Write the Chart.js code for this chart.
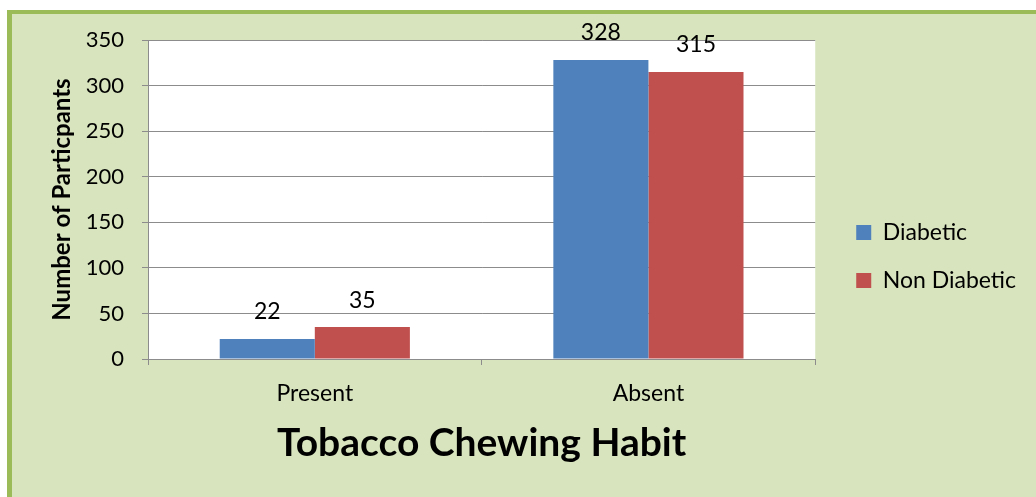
<!DOCTYPE html>
<html>
<head>
<meta charset="utf-8">
<script src="https://cdn.jsdelivr.net/npm/chart.js@4.4.0/dist/chart.umd.min.js"></script>
<style>
  html, body { margin: 0; padding: 0; background: #ffffff; overflow: hidden; }
  #frame {
    position: absolute; left: 7px; top: 10px; width: 1040px; height: 500px;
    background: #D7E4BD; border-left: 5px solid #9BBB59; border-top: 4px solid #9BBB59;
  }
  #statsChart { position: absolute; left: 0; top: 0; }
</style>
</head>
<body>
<div id="frame"></div>
<canvas id="statsChart" width="1036" height="497"></canvas>
<script>
// categories and the two series
const categories = ['Present', 'Absent'];
const diabetic = [22, 328];
const nonDiabetic = [35, 315];
const yTicks = [0, 50, 100, 150, 200, 250, 300, 350];

const gridGray = '#8C8C8C';
const fontFamily = 'Lato, "Open Sans", sans-serif';

// white plot background
const plotBg = {
    id: 'plotBg',
    beforeDraw(chart) {
        const { ctx, chartArea: a } = chart;
        ctx.save();
        ctx.fillStyle = '#ffffff';
        ctx.fillRect(a.left, a.top, a.right - a.left, a.bottom - a.top);
        ctx.restore();
    }
};

// value labels above each bar
const barValues = {
    id: 'barValues',
    afterDatasetsDraw(chart) {
        const ctx = chart.ctx;
        ctx.save();
        ctx.font = '23px ' + fontFamily;
        ctx.fillStyle = '#000';
        ctx.textAlign = 'center';
        ctx.textBaseline = 'middle';
        chart.data.datasets.forEach((ds, i) => {
            chart.getDatasetMeta(i).data.forEach((bar, j) => {
                ctx.fillText(ds.data[j], bar.x, bar.y - 27);
            });
        });
        ctx.restore();
    }
};

// nudge the legend away from the plot
const legendShift = {
    id: 'legendShift',
    afterLayout(chart) {
        const lg = chart.legend;
        lg.left += 16;
        lg.right += 16;
        lg.top += 57;
        lg.bottom += 57;
    }
};

const ctx = document.getElementById('statsChart').getContext('2d');
new Chart(ctx, {
    type: 'bar',
    data: {
        labels: categories,
        datasets: [
            { label: 'Diabetic', data: diabetic, backgroundColor: '#4F81BD' },
            { label: 'Non Diabetic', data: nonDiabetic, backgroundColor: '#C0504D' }
        ]
    },
    options: {
        responsive: false,
        animation: false,
        categoryPercentage: 0.57,
        barPercentage: 1.0,
        layout: { padding: { top: 40, left: 0, right: 26, bottom: 0 } },
        plugins: {
            tooltip: { enabled: false },
            legend: {
                position: 'right',
                fullSize: false,
                labels: {
                    boxWidth: 15,
                    boxHeight: 15,
                    padding: 25,
                    color: '#000',
                    font: { family: fontFamily, size: 23 }
                }
            }
        },
        scales: {
            x: {
                grid: { display: true, drawOnChartArea: false, drawTicks: true, tickLength: 6, color: gridGray, offset: true },
                border: { color: gridGray, width: 1 },
                ticks: { color: '#000', padding: 15, font: { family: fontFamily, size: 23 } },
                title: {
                    display: true,
                    text: 'Tobacco Chewing Habit',
                    color: '#000',
                    font: { family: fontFamily, size: 39, weight: 'bold' },
                    padding: { top: 0, bottom: 30 }
                },
                afterFit(scale) { scale.height = 138; }
            },
            y: {
                min: 0,
                max: 350,
                afterBuildTicks(scale) { scale.ticks = yTicks.map(v => ({ value: v })); },
                grid: { color: gridGray, tickLength: 6 },
                border: { color: gridGray, width: 1 },
                ticks: { color: '#000', padding: 18, font: { family: fontFamily, size: 22 } },
                title: {
                    display: true,
                    text: 'Number of Particpants',
                    color: '#000',
                    font: { family: fontFamily, size: 24, weight: 'bold' },
                    padding: { top: 48, bottom: 0 }
                },
                afterFit(scale) { scale.width = 148; }
            }
        }
    },
    plugins: [plotBg, barValues, legendShift]
});
</script>
</body>
</html>
